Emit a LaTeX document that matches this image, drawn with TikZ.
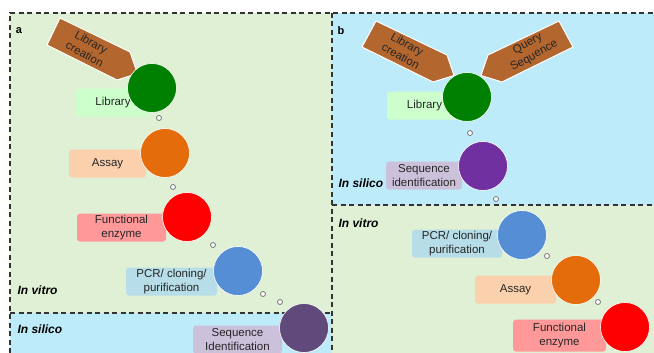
\documentclass[tikz,border=0pt]{standalone}
\usepackage{fontspec}
\setmainfont{Liberation Sans}
\usetikzlibrary{positioning}

\definecolor{vitrobg}{RGB}{224,240,212}
\definecolor{silicobg}{RGB}{190,235,250}
\definecolor{arrowbrown}{RGB}{180,102,47}
\definecolor{libgreen}{RGB}{0,128,0}
\definecolor{assayorange}{RGB}{228,108,10}
\definecolor{enzred}{RGB}{255,0,0}
\definecolor{pcrblue}{RGB}{85,142,213}
\definecolor{seqpurple}{RGB}{96,74,123}
\definecolor{seqviolet}{RGB}{112,48,160}
\definecolor{libtagc}{RGB}{204,255,204}
\definecolor{assaytagc}{RGB}{251,208,172}
\definecolor{enztagc}{RGB}{255,153,153}
\definecolor{pcrtagc}{RGB}{183,221,232}
\definecolor{seqtagc}{RGB}{204,193,218}

\pgfdeclarelayer{back}
\pgfsetlayers{back,main}

\begin{document}
\begin{tikzpicture}[x=1pt, y=-1pt,
	every node/.style={font=\fontsize{11.5}{13.5}\selectfont, text=black!85},
	bubble/.style={circle, minimum size=49pt, inner sep=0pt, draw=white, line width=0.6pt},
	tag/.style={rounded corners=3pt, minimum height=28pt, inner sep=1pt, align=center, anchor=south east},
	pin/.style={circle, minimum size=5pt, inner sep=0pt, draw=black!55, fill=white, line width=0.8pt},
	pointer/.style={fill=arrowbrown, draw=white, line width=1pt, line join=round},
	panel/.style={dash pattern=on 5pt off 3.5pt, line width=1.1pt, black!80},
	side/.style={font=\fontsize{12}{12}\selectfont\bfseries\itshape, anchor=west, text=black}]
	\useasboundingbox (0,0) rectangle (654,353);

	% backgrounds and frames
	\begin{pgfonlayer}{back}
		\fill[vitrobg] (10,13) rectangle (332,313);
		\fill[silicobg] (10,313) rectangle (332,353);
		\fill[silicobg] (332,13) rectangle (654,205);
		\fill[vitrobg] (332,205) rectangle (654,353);
	\end{pgfonlayer}
	\draw[panel] (10,353) -- (10,13) -- (654,13);
	\draw[panel] (332,13) -- (332,353);
	\draw[panel] (10,313) -- (332,313);
	\draw[panel] (332,205) -- (654,205);

	\node[font=\fontsize{11}{11}\selectfont\bfseries, text=black] (la) at (19,31) {a};
	\node[font=\fontsize{11}{11}\selectfont\bfseries, text=black] (lb) at (341,31) {b};
	\node[side] (avitro) at (14,290) {In vitro};
	\node[side] (asilico) at (14,329) {In silico};
	\node[side] (bsilico) at (335,183) {In silico};
	\node[side] (bvitro) at (335,223) {In vitro};

	% panel a
	\filldraw[pointer] (60,18) -- (47,45) -- (117,80) -- (137.5,73.5) -- (130,52) -- cycle;
	\node[rotate=-29, align=center] (acreate) at (88,48) {Library\\creation};

	\node[bubble, fill=libgreen] (alib) at (152,88) {};
	\node[bubble, fill=assayorange] (aassay) at (165,153) {};
	\node[bubble, fill=enzred] (aenz) at (187,217) {};
	\node[bubble, fill=pcrblue] (apcr) at (238,271) {};
	\node[bubble, fill=seqpurple] (aseq) at (304,328) {};

	\begin{pgfonlayer}{back}
		\node[tag, fill=libtagc, minimum width=74pt, xshift=23pt, yshift=-4pt] (alibtag) at (alib.west |- alib.south) {Library};
		\node[tag, fill=assaytagc, minimum width=77pt, xshift=6pt] (aassaytag) at (aassay.west |- aassay.south) {Assay};
		\node[tag, fill=enztagc, minimum width=89pt, xshift=4pt] (aenztag) at (aenz.west |- aenz.south) {Functional\\enzyme};
		\node[tag, fill=pcrtagc, minimum width=91pt, xshift=4pt] (apcrtag) at (apcr.west |- apcr.south) {PCR/ cloning/\\purification};
		\node[tag, fill=seqtagc, minimum width=89pt, xshift=3pt, yshift=-1pt] (aseqtag) at (aseq.west |- aseq.south) {Sequence\\Identification};
	\end{pgfonlayer}

	\node[pin] (ap1) at (159,118) {};
	\node[pin] (ap2) at (173,187) {};
	\node[pin] (ap3) at (213,245) {};
	\node[pin] (ap4) at (263,294) {};
	\node[pin] (ap5) at (280,302) {};

	% panel b
	\filldraw[pointer] (376,21) -- (362,47) -- (433,82) -- (454,75.5) -- (447,55) -- cycle;
	\node[rotate=-29, align=center] (bcreate) at (404,50) {Library\\creation};
	\filldraw[pointer] (559,21) -- (573,47) -- (502,82) -- (481,75.5) -- (488,55) -- cycle;
	\node[rotate=29, align=center] (bquery) at (531,50) {Query\\Sequence};

	\node[bubble, fill=libgreen] (blib) at (467,97) {};
	\node[bubble, fill=seqviolet] (bseq) at (483,166) {};
	\node[bubble, fill=pcrblue] (bpcr) at (522,235) {};
	\node[bubble, fill=assayorange] (bassay) at (576,280) {};
	\node[bubble, fill=enzred] (benz) at (625,327) {};

	\begin{pgfonlayer}{back}
		\node[tag, fill=libtagc, minimum width=75pt, xshift=20pt, yshift=2pt] (blibtag) at (blib.west |- blib.south) {Library};
		\node[tag, fill=seqtagc, minimum width=76pt, xshift=4pt, yshift=1pt] (bseqtag) at (bseq.west |- bseq.south) {Sequence\\identification};
		\node[tag, fill=pcrtagc, minimum width=90pt, xshift=5pt, yshift=2pt] (bpcrtag) at (bpcr.west |- bpcr.south) {PCR/ cloning/\\purification};
		\node[tag, fill=assaytagc, minimum width=81pt, xshift=5pt, yshift=1pt] (bassaytag) at (bassay.west |- bassay.south) {Assay};
		\node[tag, fill=enztagc, minimum width=93pt, minimum height=32pt, xshift=6pt] (benztag) at (benz.west |- benz.south) {Functional\\enzyme};
	\end{pgfonlayer}

	\node[pin] (bp1) at (470,133) {};
	\node[pin] (bp2) at (496,199) {};
	\node[pin] (bp3) at (547,256) {};
	\node[pin] (bp4) at (598,302) {};
\end{tikzpicture}
\end{document}
